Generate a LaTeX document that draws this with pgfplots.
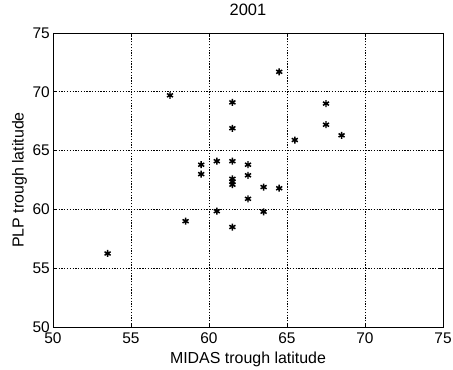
\documentclass[border=0pt]{standalone}
\usepackage{pgfplots}
\pgfplotsset{compat=1.18}
\usepackage{fontspec}
\setmainfont{Liberation Sans}

\begin{document}
\begin{tikzpicture}
% fixed frame of the figure
\path (-53bp,-43bp) rectangle (400bp,327bp);
\begin{axis}[
  at={(0,0)}, anchor=south west,
  scale only axis,
  width=390bp, height=294bp,
  xmin=50, xmax=75, ymin=50, ymax=75,
  xtick={50,55,...,75}, ytick={50,55,...,75},
  grid=major,
  major grid style={black, line width=0.9pt, dash pattern=on 1.3pt off 1.5pt},
  axis line style={black, line width=0.9pt},
  tick style={black, line width=0.9pt},
  tick align=inside,
  major tick length=4bp,
  font=\fontsize{15.5}{17}\selectfont,
  /pgf/number format/assume math mode=true,
  xticklabel style={inner sep=0pt, yshift=-6bp},
  yticklabel style={inner sep=0pt, xshift=-3bp},
  title={2001},
  title style={at={(0.5,1)}, anchor=south, yshift=11bp, inner sep=0pt, font=\fontsize{16.5}{18}\selectfont},
  xlabel={MIDAS trough latitude},
  ylabel={PLP trough latitude},
  label style={font=\fontsize{16}{18}\selectfont},
  xlabel style={at={(0.5,0)}, anchor=south, yshift=-40bp, inner sep=0pt},
  ylabel style={at={(axis description cs:0,0.5)}, anchor=north, yshift=41bp, inner sep=0pt},
]
\addplot[only marks, mark=asterisk, mark size=3.5bp, black, line width=1.5pt]
  table {
    x     y
    57.5  69.7
    64.5  71.7
    61.5  69.1
    61.5  66.9
    67.5  69.0
    67.5  67.2
    68.5  66.3
    65.5  65.9
    59.5  63.8
    59.5  63.0
    60.5  64.1
    61.5  64.1
    62.5  63.8
    62.5  62.9
    61.5  62.6
    61.5  62.35
    61.5  62.1
    63.5  61.9
    64.5  61.8
    62.5  60.9
    60.5  59.85
    63.5  59.8
    58.5  59.0
    61.5  58.5
    53.5  56.25
  };
\end{axis}
\end{tikzpicture}
\end{document}
